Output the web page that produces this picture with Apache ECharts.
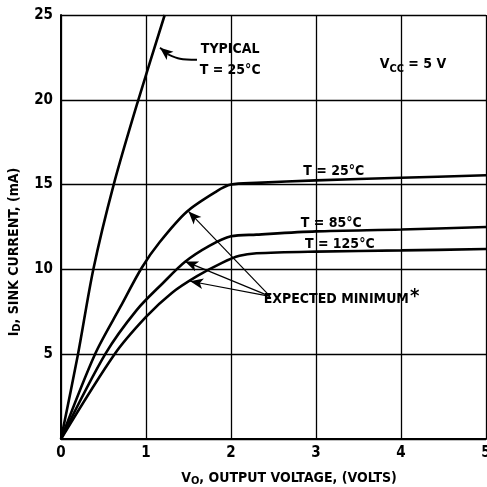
<!DOCTYPE html>
<html>
<head>
<meta charset="UTF-8">
<title>sink current</title>
<script src="https://cdn.jsdelivr.net/npm/echarts@6/dist/echarts.min.js"></script>
<style>
  html, body { margin: 0; padding: 0; background: #fff; }
  #chart { width: 487px; height: 487px; }
</style>
</head>
<body>
<div id="chart"></div>
<script>
// values: [VO (volts), ID (mA)]
var typical25 = [[0, 0], [0.2, 5], [0.38, 10], [0.62, 15], [0.91, 20], [1.22, 25]];
var min25 = [[0, 0], [0.4, 5], [0.7, 7.8], [0.95, 10.1], [1.16, 11.6], [1.48, 13.4],
  [1.83, 14.6], [2.0, 15.0], [2.3, 15.1], [3, 15.25], [4, 15.4], [5, 15.55]];
var min85 = [[0, 0], [0.52, 5], [0.89, 7.6], [1.2, 9.2], [1.46, 10.45],
  [1.75, 11.4], [2.0, 11.95], [2.3, 12.05], [3, 12.24], [4, 12.35], [5, 12.5]];
var min125 = [[0, 0], [0.63, 5], [1.0, 7.2], [1.3, 8.6], [1.6, 9.6], [1.9, 10.4],
  [2.1, 10.8], [2.3, 10.95], [3, 11.05], [4, 11.12], [5, 11.2]];

var xTicks = [0, 1, 2, 3, 4, 5];
var yTicks = [0, 5, 10, 15, 20, 25];

// text notes: [VO, ID, text]
var notes = [
  [1.99, 22.95, 'TYPICAL'],
  [1.99, 21.72, 'T = 25°C'],
  [4.14, 22.07, '{v|V}{s|CC}{v| = 5 V}'],
  [3.21, 15.76, 'T = 25°C'],
  [3.18, 12.7, 'T = 85°C'],
  [3.28, 11.5, 'T = 125°C'],
  [3.3, 8.24, 'EXPECTED MINIMUM{a|*}']
];
// curved pointer to the typical curve: tail points, then the head
var typicalTail = [[1.6, 22.36], [1.4, 22.42], [1.26, 22.68]];
var typicalHead = [[1.26, 22.68], [1.165, 23.07]];
var minArrows = [
  [[2.46, 8.41], [1.5, 13.42]],
  [[2.46, 8.41], [1.46, 10.47]],
  [[2.46, 8.41], [1.52, 9.3]]
];

var font = "'Liberation Sans Narrow', 'DejaVu Sans Condensed', 'Liberation Sans', sans-serif";

var chart = echarts.init(document.getElementById('chart'));

function curve(name, data, width) {
  return {
    name: name, type: 'line', data: data, smooth: 0.3,
    showSymbol: false, symbol: 'none', silent: true,
    lineStyle: { color: '#000', width: width || 2.6 }
  };
}

function arrowSeries(list, width) {
  return {
    type: 'line', data: [], silent: true,
    markLine: {
      silent: true, animation: false,
      symbolSize: [8, 13],
      label: { show: false },
      lineStyle: { color: '#000', width: width, type: 'solid' },
      data: list.map(function (a) {
        return [{ coord: a[0], symbol: 'none' }, { coord: a[1], symbol: 'arrow' }];
      })
    }
  };
}

chart.setOption({
  animation: false,
  backgroundColor: '#fff',
  grid: { left: 61, right: 1, top: 15, bottom: 48, containLabel: false, outerBoundsMode: 'none' },
  xAxis: {
    type: 'value', min: 0, max: 5, interval: 1,
    name: '{v|V}{s|O}{v|, OUTPUT VOLTAGE, (VOLTS)}',
    nameLocation: 'middle', nameGap: 31,
    nameTextStyle: {
      padding: [0, 0, 0, 31],
      rich: {
        v: { fontFamily: font, fontWeight: 'bold', fontSize: 14, color: '#000' },
        s: { fontFamily: font, fontWeight: 'bold', fontSize: 11, color: '#000', padding: [6, 0, 0, 0] }
      }
    },
    axisLine: { show: true, lineStyle: { color: '#000', width: 2 } },
    axisTick: { show: false },
    axisLabel: {
      color: '#000', fontFamily: font, fontWeight: 'bold', fontSize: 15, margin: 7,
      formatter: function (v) { return xTicks.indexOf(v) >= 0 ? String(v) : ''; }
    },
    splitLine: { show: true, lineStyle: { color: '#000', width: 1.3 } }
  },
  yAxis: {
    type: 'value', min: 0, max: 25, interval: 5,
    name: '{v|I}{s|D}{v|, SINK CURRENT, (mA)}',
    nameLocation: 'middle', nameGap: 38, nameRotate: 90,
    nameTextStyle: {
      padding: [0, 50, 0, 0],
      rich: {
        v: { fontFamily: font, fontWeight: 'bold', fontSize: 14, color: '#000' },
        s: { fontFamily: font, fontWeight: 'bold', fontSize: 11, color: '#000', padding: [6, 0, 0, 0] }
      }
    },
    axisLine: { show: true, lineStyle: { color: '#000', width: 2 } },
    axisTick: { show: false },
    axisLabel: {
      color: '#000', fontFamily: font, fontWeight: 'bold', fontSize: 15, margin: 8,
      formatter: function (v) { return v === 0 || yTicks.indexOf(v) < 0 ? '' : String(v); }
    },
    splitLine: { show: true, lineStyle: { color: '#000', width: 1.3 } }
  },
  series: [
    curve('typical', typical25),
    curve('25', min25),
    curve('85', min85),
    curve('125', min125),
    {
      type: 'scatter', silent: true, symbolSize: 0,
      data: notes,
      label: {
        show: true, position: 'inside', color: '#000', opacity: 1,
        fontFamily: font, fontWeight: 'bold', fontSize: 14,
        formatter: function (p) { return p.value[2]; },
        rich: {
          v: { fontFamily: font, fontWeight: 'bold', fontSize: 14, color: '#000' },
          s: { fontFamily: font, fontWeight: 'bold', fontSize: 11, color: '#000', padding: [8, 0, 0, 0] },
          a: { fontFamily: font, fontWeight: 'bold', fontSize: 20, color: '#000', padding: [0, 0, 4, 1] }
        }
      }
    },
    curve('pointer', typicalTail, 1.8),
    arrowSeries([typicalHead], 1.8),
    arrowSeries(minArrows, 1.2)
  ]
});
</script>
</body>
</html>
